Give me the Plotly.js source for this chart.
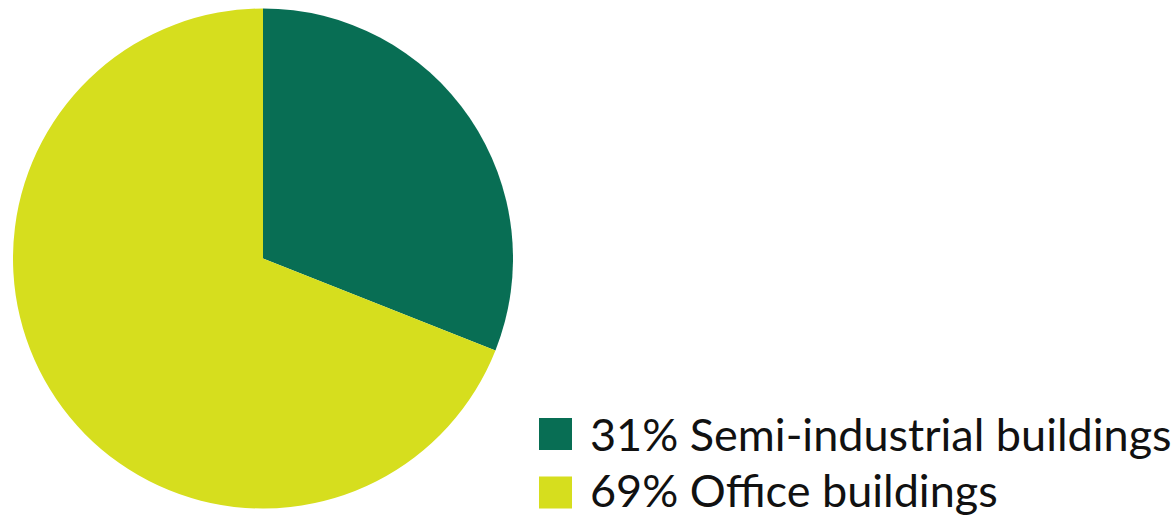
<!DOCTYPE html>
<html>
<head>
<meta charset="utf-8">
<script src="https://cdn.plot.ly/plotly-3.0.1.min.js"></script>
<style>html,body{margin:0;padding:0;background:#fff;}#chart{width:1176px;height:517px;}</style>
</head>
<body>
<div id="chart"></div>
<script>
const labels = ["Semi-industrial buildings", "Office buildings"];
const values = [31, 69];
const colors = ["#086e54", "#d6de1e"];

const W = 1176, H = 517;
const px = (x) => x / W;
const py = (y) => 1 - y / H;

const shapes = [];
const annotations = [];
const boxY = [434, 492.5];
const textY = [434, 490];
for (let i = 0; i < labels.length; i++) {
  shapes.push({
    type: "rect", xref: "paper", yref: "paper",
    x0: px(539), x1: px(572), y0: py(boxY[i] + 16), y1: py(boxY[i] - 16),
    fillcolor: colors[i], line: {width: 0}
  });
  annotations.push({
    xref: "paper", yref: "paper", x: px(589), y: py(textY[i]),
    xanchor: "left", yanchor: "middle", showarrow: false, borderpad: 0,
    text: values[i] + "% " + labels[i],
    font: {family: "Lato, 'Open Sans', sans-serif", size: 45, color: "#111111"}
  });
}

const data = [{
  type: "pie",
  labels: labels,
  values: values,
  marker: {colors: colors, line: {width: 0}},
  sort: false,
  direction: "clockwise",
  rotation: 0,
  textinfo: "none",
  hoverinfo: "label+percent",
  domain: {x: [px(13), px(513)], y: [py(508.5), py(8.5)]},
  showlegend: false
}];

const layout = {
  width: W, height: H,
  margin: {l: 0, r: 0, t: 0, b: 0},
  paper_bgcolor: "#ffffff",
  plot_bgcolor: "#ffffff",
  showlegend: false,
  shapes: shapes,
  annotations: annotations
};

Plotly.newPlot("chart", data, layout, {displayModeBar: false, staticPlot: true});
</script>
</body>
</html>
